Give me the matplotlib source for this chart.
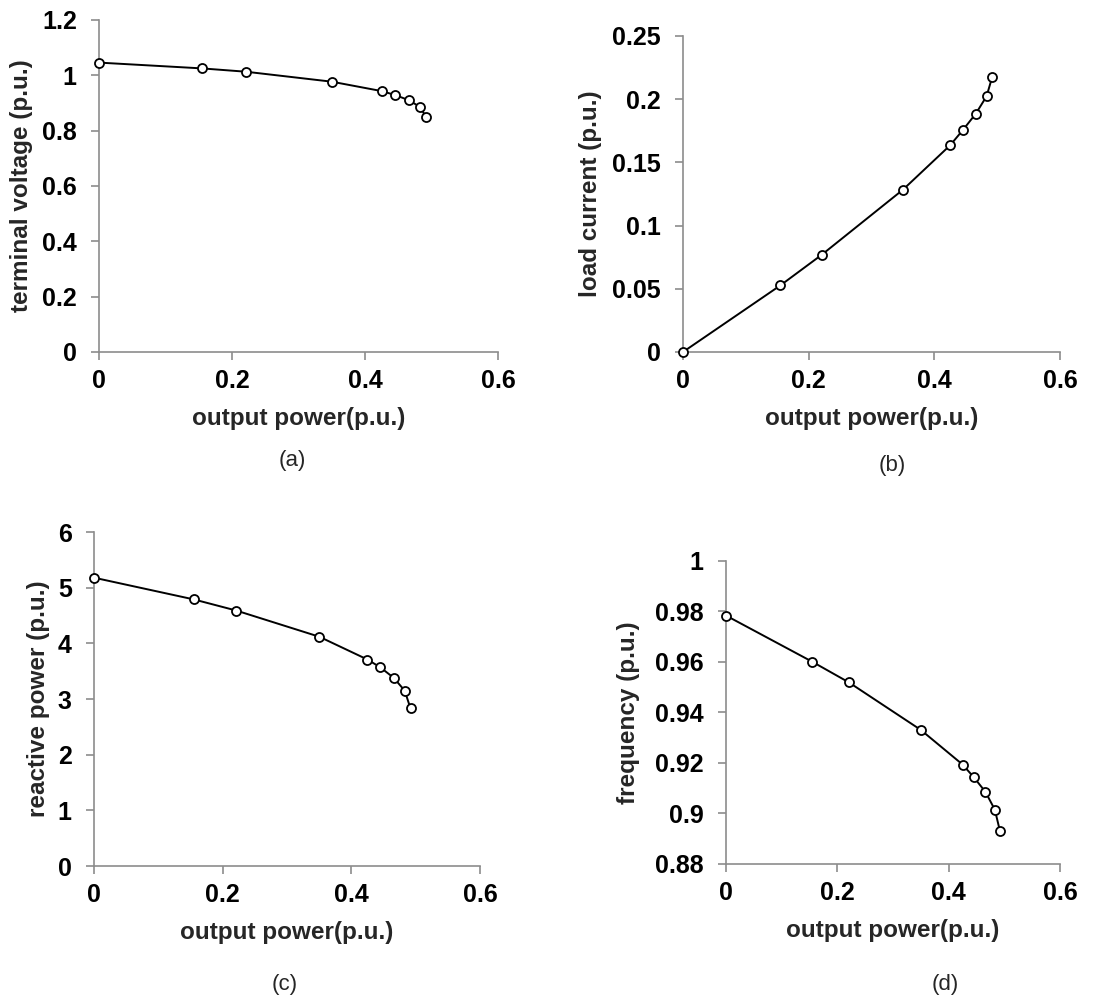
import matplotlib
matplotlib.use("Agg")
import matplotlib.pyplot as plt

# Datos comunes: potencia de salida (p.u.)
potencia = [0, 0.155, 0.221, 0.350, 0.425, 0.445, 0.466, 0.483, 0.492]

# Curvas medidas contra la potencia de salida
tension = [1.046, 1.025, 1.013, 0.977, 0.943, 0.929, 0.910, 0.885, 0.848]
corriente = [0.0, 0.0527, 0.0770, 0.1284, 0.1635, 0.1754, 0.1886, 0.2023, 0.2176]
reactiva = [5.18, 4.79, 4.59, 4.12, 3.71, 3.57, 3.38, 3.15, 2.83]
frecuencia = [0.9784, 0.9601, 0.9519, 0.9331, 0.9194, 0.9144, 0.9086, 0.9015, 0.8932]

plt.rcParams['font.family'] = ['Liberation Sans', 'DejaVu Sans']

fig = plt.figure(figsize=(11.09, 10.05), dpi=100)

paneles = [
    # (posicion, datos, etiqueta y, x etiqueta y, ticks y, letra, posicion letra)
    ([0.0893, 0.6498, 0.3598, 0.3303], tension, "terminal voltage (p.u.)", -0.165,
     [0, 0.2, 0.4, 0.6, 0.8, 1, 1.2], "(a)", (0.264, 0.542)),
    ([0.6159, 0.6498, 0.3400, 0.3144], corriente, "load current (p.u.)", -0.215,
     [0, 0.05, 0.1, 0.15, 0.2, 0.25], "(b)", (0.805, 0.537)),
    ([0.0848, 0.1383, 0.3480, 0.3323], reactiva, "reactive power (p.u.)", -0.114,
     [0, 1, 2, 3, 4, 5, 6], "(c)", (0.257, 0.020)),
    ([0.6546, 0.1403, 0.3012, 0.3015], frecuencia, "frequency (p.u.)", -0.257,
     [0.88, 0.9, 0.92, 0.94, 0.96, 0.98, 1], "(d)", (0.852, 0.020)),
]

gris = "#8c8c8c"

for pos, datos, ylab, ylab_x, yticks, letra, lpos in paneles:
    ax = fig.add_axes(pos)
    ax.plot(potencia, datos, color="black", lw=1.4, marker="o", ms=6.5,
            mfc="white", mec="black", mew=1.3, clip_on=False, zorder=3)
    ax.set_xlim(0, 0.6)
    ax.set_ylim(yticks[0], yticks[-1])
    ax.set_xticks([0, 0.2, 0.4, 0.6])
    ax.set_xticklabels(["0", "0.2", "0.4", "0.6"])
    ax.set_yticks(yticks)
    ax.set_yticklabels([f"{t:g}" for t in yticks])
    for s in ["top", "right"]:
        ax.spines[s].set_visible(False)
    for s in ["left", "bottom"]:
        ax.spines[s].set_color(gris)
        ax.spines[s].set_linewidth(1.2)
    ax.tick_params(axis="both", direction="out", length=6, width=1.2,
                   color=gris, labelsize=18, labelcolor="black")
    ax.tick_params(axis="x", pad=6)
    ax.tick_params(axis="y", pad=10)
    for lbl in ax.get_xticklabels() + ax.get_yticklabels():
        lbl.set_fontweight("bold")
    ax.set_xlabel("output power(p.u.)", fontsize=17.5, fontweight="bold",
                  color="#262626", labelpad=10)
    ax.set_ylabel(ylab, fontsize=17.5, fontweight="bold", color="#262626")
    ax.yaxis.set_label_coords(ylab_x, 0.5)
    ax.set_facecolor("none")
    fig.text(lpos[0], lpos[1], letra, fontsize=16, color="#262626",
             ha="center", va="center")

fig.savefig("out.png", dpi=100, facecolor="white")
